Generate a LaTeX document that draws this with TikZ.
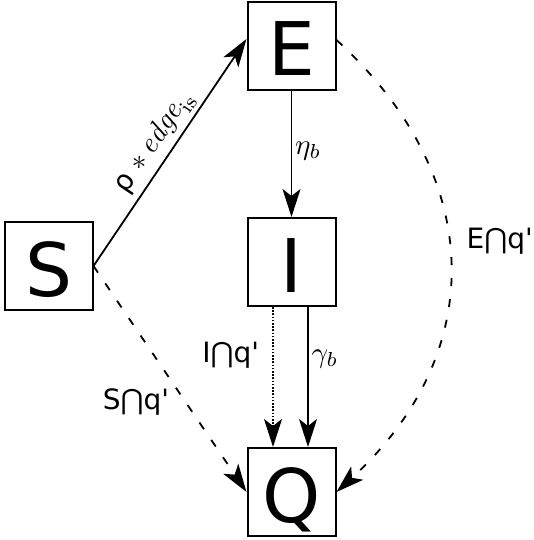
\documentclass[tikz,border=0pt]{standalone}
\usepackage{fontspec}
\usetikzlibrary{arrows.meta,calc}
\newfontfamily\dejavu{DejaVu Sans}
\tikzset{
  box/.style={draw, line width=2pt, minimum size=88pt, inner sep=0pt,
    font=\dejavu\fontsize{74}{74}\selectfont, text height=60pt, text depth=0pt},
  conn/.style={line width=1.8pt, -{Stealth[length=28pt,width=18pt,inset=7pt]}},
  dashconn/.style={conn, dash pattern=on 8pt off 13pt},
  dotconn/.style={conn, dash pattern=on 1.6pt off 1.6pt},
  lab/.style={font=\dejavu\fontsize{28}{30}\selectfont, inner sep=0pt},
  mlab/.style={font=\normalsize, inner sep=0pt, scale=2.9, transform shape},
}
\begin{document}
\begin{tikzpicture}[x=1pt,y=-1pt]
\useasboundingbox (0,0) rectangle (533,540);
\node[box] (E) at (291.5,46) {E};
\node[box] (I) at (291.5,262) {I};
\node[box] (Q) at (291.5,492) {Q};
\node[box] (S) at (48.5,266) {S};

\draw[conn] (S.east) -- node[midway, sloped, above, mlab, inner sep=0.7pt]
  {{\dejavu\fontsize{9.66}{10}\selectfont ρ} $*\,\mathit{edge}_{\mathrm{is}}$} ([yshift=7pt]E.west);
\draw[conn] (E.south) -- node[pos=0.5, anchor=base west, xshift=1pt, mlab] {$\eta_b$} (I.north);
\draw[dotconn] ([xshift=-18.5pt]I.south) -- node[pos=0.394, anchor=base east, lab, xshift=-13pt] {I⋂q'} ([xshift=-18.5pt]Q.north);
\draw[conn] ([xshift=16.5pt]I.south) -- node[pos=0.394, anchor=base west, xshift=1pt, mlab] {$\gamma_b$} ([xshift=16.5pt]Q.north);
\draw[dashconn] (S.east) -- node[pos=0.5, anchor=base west, lab, xshift=-68pt, yshift=-30pt] {S⋂q'} (Q.west);
\draw[dashconn] ([yshift=6pt]E.east) .. controls +(151,138) and +(151,-138) .. node[pos=0.5, anchor=base west, lab, xshift=16pt, yshift=18pt] {E⋂q'} (Q.east);
\end{tikzpicture}
\end{document}
